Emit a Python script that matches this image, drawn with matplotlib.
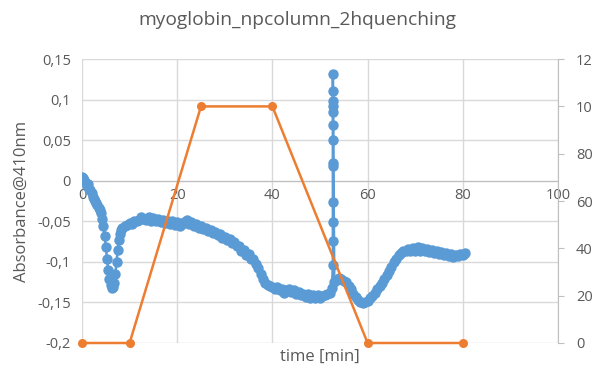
import matplotlib
matplotlib.use("Agg")
import matplotlib.pyplot as plt
from matplotlib.ticker import FuncFormatter, MultipleLocator

plt.rcParams['font.family'] = ['Open Sans', 'DejaVu Sans']

title = "myoglobin_npcolumn_2hquenching"
xlabel = "time [min]"
ylabel = "Absorbance@410nm"

# Absorbance trace: time (min) and absorbance at 410 nm
abs_time = [
    0, 0.25, 0.5, 0.75, 1, 1.25, 1.5, 1.75, 2, 2.25, 2.5, 2.75, 3, 3.25, 3.5, 3.75,
    4, 4.25, 4.5, 4.75, 5, 5.25, 5.5, 5.75, 6, 6.25, 6.5, 6.75, 7, 7.25, 7.5, 7.75,
    8, 8.25, 8.5, 9, 9.5, 10, 10.5, 11, 11.5, 12, 12.5, 13, 13.5, 14, 14.5, 15,
    15.5, 16, 16.5, 17, 17.5, 18, 18.5, 19, 19.5, 20, 20.5, 21, 21.5, 22, 22.5, 23,
    23.5, 24, 24.5, 25, 25.5, 26, 26.5, 27, 27.5, 28, 28.5, 29, 29.5, 30, 30.5, 31,
    31.5, 32, 32.5, 33, 33.5, 34, 34.5, 35, 35.5, 36, 36.5, 37, 37.5, 38, 38.5, 39,
    39.5, 40, 40.5, 41, 41.5, 42, 42.5, 43, 43.5, 44, 44.5, 45, 45.5, 46, 46.5, 47,
    47.5, 48, 48.5, 49, 49.5, 50, 50.5, 51, 51.5, 52, 52.5,
    52.7, 52.7, 52.7, 52.7, 52.7, 52.7, 52.7, 52.7, 52.7, 52.7, 52.7, 52.7, 52.7,
    53, 53.5, 54, 54.5, 55, 55.5, 56, 56.5, 57, 57.5, 58, 58.5, 59, 59.5, 60, 60.5,
    61, 61.5, 62, 62.5, 63, 63.5, 64, 64.5, 65, 65.5, 66, 66.5, 67, 67.5, 68, 68.5,
    69, 69.5, 70, 70.5, 71, 71.5, 72, 72.5, 73, 73.5, 74, 74.5, 75, 75.5, 76, 76.5,
    77, 77.5, 78, 78.5, 79, 79.5, 80, 80.5]
abs_value = [
    0.005, 0.004, 0.001, -0.003, -0.006, -0.004, -0.010, -0.012, -0.015, -0.020,
    -0.022, -0.025, -0.027, -0.030, -0.033, -0.036, -0.040, -0.047, -0.056, -0.068,
    -0.082, -0.096, -0.110, -0.121, -0.128, -0.132, -0.131, -0.126, -0.115, -0.100,
    -0.085, -0.073, -0.066, -0.061, -0.058, -0.056, -0.054, -0.052, -0.053, -0.050,
    -0.049, -0.048, -0.045, -0.047, -0.048, -0.045, -0.049, -0.046, -0.050, -0.047,
    -0.051, -0.048, -0.052, -0.049, -0.053, -0.050, -0.054, -0.051, -0.056, -0.053,
    -0.051, -0.048, -0.053, -0.051, -0.056, -0.053, -0.058, -0.056, -0.060, -0.058,
    -0.062, -0.061, -0.065, -0.063, -0.067, -0.066, -0.070, -0.069, -0.073, -0.072,
    -0.077, -0.076, -0.081, -0.080, -0.086, -0.085, -0.091, -0.090, -0.096, -0.097,
    -0.102, -0.108, -0.115, -0.121, -0.126, -0.129, -0.130, -0.131, -0.133, -0.131,
    -0.135, -0.134, -0.138, -0.135, -0.133, -0.137, -0.135, -0.139, -0.137, -0.141,
    -0.139, -0.143, -0.140, -0.144, -0.141, -0.144, -0.141, -0.144, -0.142, -0.141,
    -0.140, -0.138, -0.132,
    -0.104, -0.074, -0.051, -0.026, 0.018, 0.022, 0.050, 0.069, 0.085, 0.092,
    0.098, 0.111, 0.132,
    -0.125, -0.122, -0.120, -0.121, -0.123, -0.125, -0.130, -0.134, -0.139, -0.143,
    -0.147, -0.150, -0.151, -0.150, -0.148, -0.145, -0.142, -0.138, -0.134, -0.130,
    -0.126, -0.121, -0.116, -0.111, -0.106, -0.100, -0.096, -0.092, -0.089, -0.087,
    -0.086, -0.084, -0.087, -0.083, -0.087, -0.082, -0.086, -0.083, -0.087, -0.084,
    -0.088, -0.085, -0.089, -0.087, -0.090, -0.088, -0.091, -0.089, -0.093, -0.090,
    -0.094, -0.091, -0.093, -0.090, -0.091, -0.089]

# Gradient program (right axis, %)
grad_time = [0, 10, 25, 40, 60, 80]
grad_value = [0, 0, 100, 100, 0, 0]

blue = "#5B9BD5"
orange = "#ED7D31"
grid_c = "#D9D9D9"
axis_c = "#BFBFBF"
text_c = "#595959"

fig = plt.figure(figsize=(5.92, 3.67), dpi=100)
ax = fig.add_axes([0.1385, 0.0654, 0.8041, 0.7736])
ax.set_xlim(0, 100)
ax.set_ylim(-0.2, 0.15)
ax.yaxis.set_major_locator(MultipleLocator(0.05))
ax.xaxis.set_major_locator(MultipleLocator(20))


def comma_fmt(v, pos):
    s = f"{round(v, 3):g}"
    if s == "-0":
        s = "0"
    return s.replace(".", ",")


ax.yaxis.set_major_formatter(FuncFormatter(comma_fmt))
ax.grid(True, color=grid_c, linewidth=1.0)
ax.set_axisbelow(True)
for s in ("top", "right", "left"):
    ax.spines[s].set_visible(False)
ax.spines["bottom"].set_position(("data", 0))
ax.spines["bottom"].set_color(axis_c)
ax.tick_params(axis="both", length=0, colors=text_c, labelsize=10.5)
ax.tick_params(axis="x", pad=5)
ax.tick_params(axis="y", pad=8)
ax.set_ylabel(ylabel, color=text_c, fontsize=12, labelpad=5)

ax.plot(abs_time, abs_value, color=blue, linewidth=1.8, marker="o",
        markersize=7.5, markeredgewidth=0, zorder=3)

ax2 = ax.twinx()
ax2.set_ylim(0, 120)
ax2.yaxis.set_major_locator(MultipleLocator(20))
for s in ("top", "left", "bottom"):
    ax2.spines[s].set_visible(False)
ax2.spines["right"].set_color(axis_c)
ax2.tick_params(axis="y", length=4, color=axis_c, labelcolor=text_c,
                labelsize=10.5, pad=9)
ax2.plot(grad_time, grad_value, color=orange, linewidth=1.8, marker="o",
         markersize=6.5, markeredgewidth=0, clip_on=False, zorder=4)

fig.text(0.541, 0.027, xlabel, ha="center", va="center", color=text_c, fontsize=12)
fig.text(0.502, 0.945, title, ha="center", va="center", color=text_c, fontsize=13.8)

fig.savefig("out.png", dpi=100)
